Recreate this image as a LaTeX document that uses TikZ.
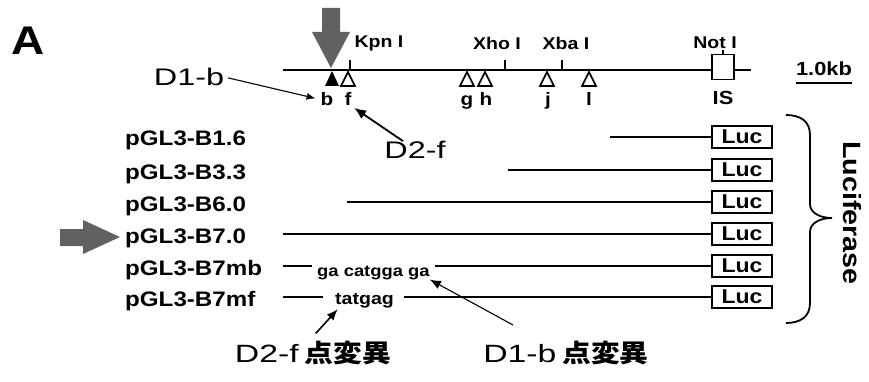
\documentclass[tikz,border=0pt]{standalone}
\usepackage{fontspec}
\setmainfont{Liberation Sans}[FakeStretch=1.15]
\newfontfamily\dfont{Liberation Sans}[FakeStretch=1.35]
\newfontfamily\cjk{Noto Sans CJK JP}[FakeStretch=1.15]
\usetikzlibrary{arrows.meta, positioning}

\newcommand{\fsz}[1]{\fontsize{#1}{#1}\selectfont}

\begin{document}
\begin{tikzpicture}[
        x=1pt, y=-1pt,
        every node/.style={inner sep=0pt},
        dna/.style={line width=2.2pt},
        ptr/.style={-{Latex[length=9pt,width=7pt]}, line width=1.1pt},
        rowname/.style={anchor=base west, font=\bfseries\fsz{21}},
        enzyme/.style={font=\bfseries\fsz{17}},
        sitename/.style={anchor=base, font=\bfseries\fsz{18}},
        seqtext/.style={anchor=base west, font=\bfseries\fsz{16}},
        lucbox/.style={draw, line width=1.8pt, minimum width=60pt,
            minimum height=22pt, font=\bfseries\fsz{20}},
        mutlbl/.style={anchor=base, font=\dfont\fsz{25}},
        bigarrow/.style={fill=black!62},
    ]
    \useasboundingbox (0,0) rectangle (869,382);

    \node[font=\bfseries\fsz{40}] (panel) at (28,41) {A};

    % restriction map
    \coordinate (m0) at (283,70);
    \node[draw, line width=1.8pt, minimum width=22pt, minimum height=25pt] (is) at (723,67) {};
    \draw[dna] (m0) -- (m0 -| is.west);
    \draw[dna] (m0 -| is.east) -- ++(16,0);
    \foreach \x in {350,505,562}
        \draw[line width=1.5pt] (\x,70) -- (\x,60);
    \draw[line width=1.5pt] (is.north) -- ++(0,-4);

    \node[enzyme] (kpn) at (379,43) {Kpn I};
    \node[enzyme] (xho) at (497,43) {Xho I};
    \node[enzyme] (xba) at (566,43) {Xba I};
    \node[enzyme] (not) at (715,43) {Not I};

    \fill (332,71) -- (325,86) -- (339,86) -- cycle;
    \foreach \x in {348,467,485,547,589}
        \draw[line width=1.6pt, fill=white] (\x,72) -- (\x-7,86) -- (\x+7,86) -- cycle;

    \node[sitename] (sb) at (327,106) {b};
    \node[sitename] (sf) at (348,106) {f};
    \node[sitename] (sg) at (467,106) {g};
    \node[sitename] (sh) at (486,106) {h};
    \node[sitename] (sj) at (548,106) {j};
    \node[sitename] (sl) at (589,106) {l};
    \node[sitename, font=\bfseries\fsz{19}] (isl) at (723,105) {IS};

    \node[font=\bfseries\fsz{19}] (kb) at (824,69) {1.0kb};
    \draw[line width=2.2pt] ([yshift=-7pt]kb.south west) -- ([yshift=-7pt]kb.south east);

    \fill[bigarrow] (322,8) -- (340,8) -- (340,32) -- (350,32) -- (331,68)
        -- (312,32) -- (322,32) -- cycle;

    \node[font=\dfont\fsz{24}] (d1b) at (189,77) {D1-b};
    \node[font=\dfont\fsz{24}] (d2f) at (415,150) {D2-f};
    \draw[ptr, shorten <=4pt, shorten >=5pt] (d1b.east) -- (sb.west);
    \draw[ptr, line width=1.8pt, -{Latex[length=12pt,width=10pt]}, shorten >=3pt]
        ([xshift=-12pt]d2f.north) -- (sf.south east);

    % constructs
    \foreach \n/\y/\s [count=\i] in {B1.6/137/610, B3.3/170/508, B6.0/202/347,
            B7.0/234/283, B7mb/266/283, B7mf/297/283} {
        \node[rowname] (row\i) at (125,\y+9) {pGL3-\n};
        \node[lucbox] (luc\i) at (742,\y) {Luc};
        \coordinate (s\i) at (\s,\y);
    }
    \foreach \i in {1,2,3,4}
        \draw[dna] (s\i) -- (luc\i.west);

    \node[seqtext] (mbseq) at (317,276) {ga catgga ga};
    \node[seqtext, font=\bfseries\fsz{17}] (mfseq) at (335,304) {tatgag};
    \draw[dna, shorten >=5pt] (s5) -- (mbseq.west |- s5);
    \draw[dna, shorten <=5pt] (mbseq.east |- s5) -- (luc5.west);
    \draw[dna, shorten >=12pt] (s6) -- (mfseq.west |- s6);
    \draw[dna, shorten <=10pt] (mfseq.east |- s6) -- (luc6.west);

    \fill[bigarrow] (60,229) -- (83,229) -- (83,220) -- (120,237) -- (83,254)
        -- (83,246) -- (60,246) -- cycle;

    \draw[line width=1.8pt] (786,115) .. controls (800,115) and (810,121) .. (810,135)
        -- (810,204) .. controls (810,213) and (820,218) .. (832,218)
        .. controls (820,218) and (810,223) .. (810,232)
        -- (810,303) .. controls (810,317) and (800,323) .. (786,323);
    \node[font=\bfseries\fsz{25}, rotate=-90] (lucif) at (852,213) {Luciferase};

    % point mutations
    \node[mutlbl] (d2mut) at (313,362) {D2-f\hspace{6pt}{\cjk\bfseries 点変異}};
    \node[mutlbl] (d1mut) at (566,362) {D1-b\hspace{6pt}{\cjk\bfseries 点変異}};
    \coordinate (d1tail) at (513,325);
    \draw[ptr, line width=1.6pt, -{Latex[length=11pt,width=9pt]}, shorten <=4pt, shorten >=2pt]
        ([yshift=4pt]d2mut.north) -- ([xshift=4pt]mfseq.south west);
    \draw[ptr, -{Latex[length=11pt,width=9pt]}] (d1tail) -- (mbseq.south east);
\end{tikzpicture}
\end{document}
